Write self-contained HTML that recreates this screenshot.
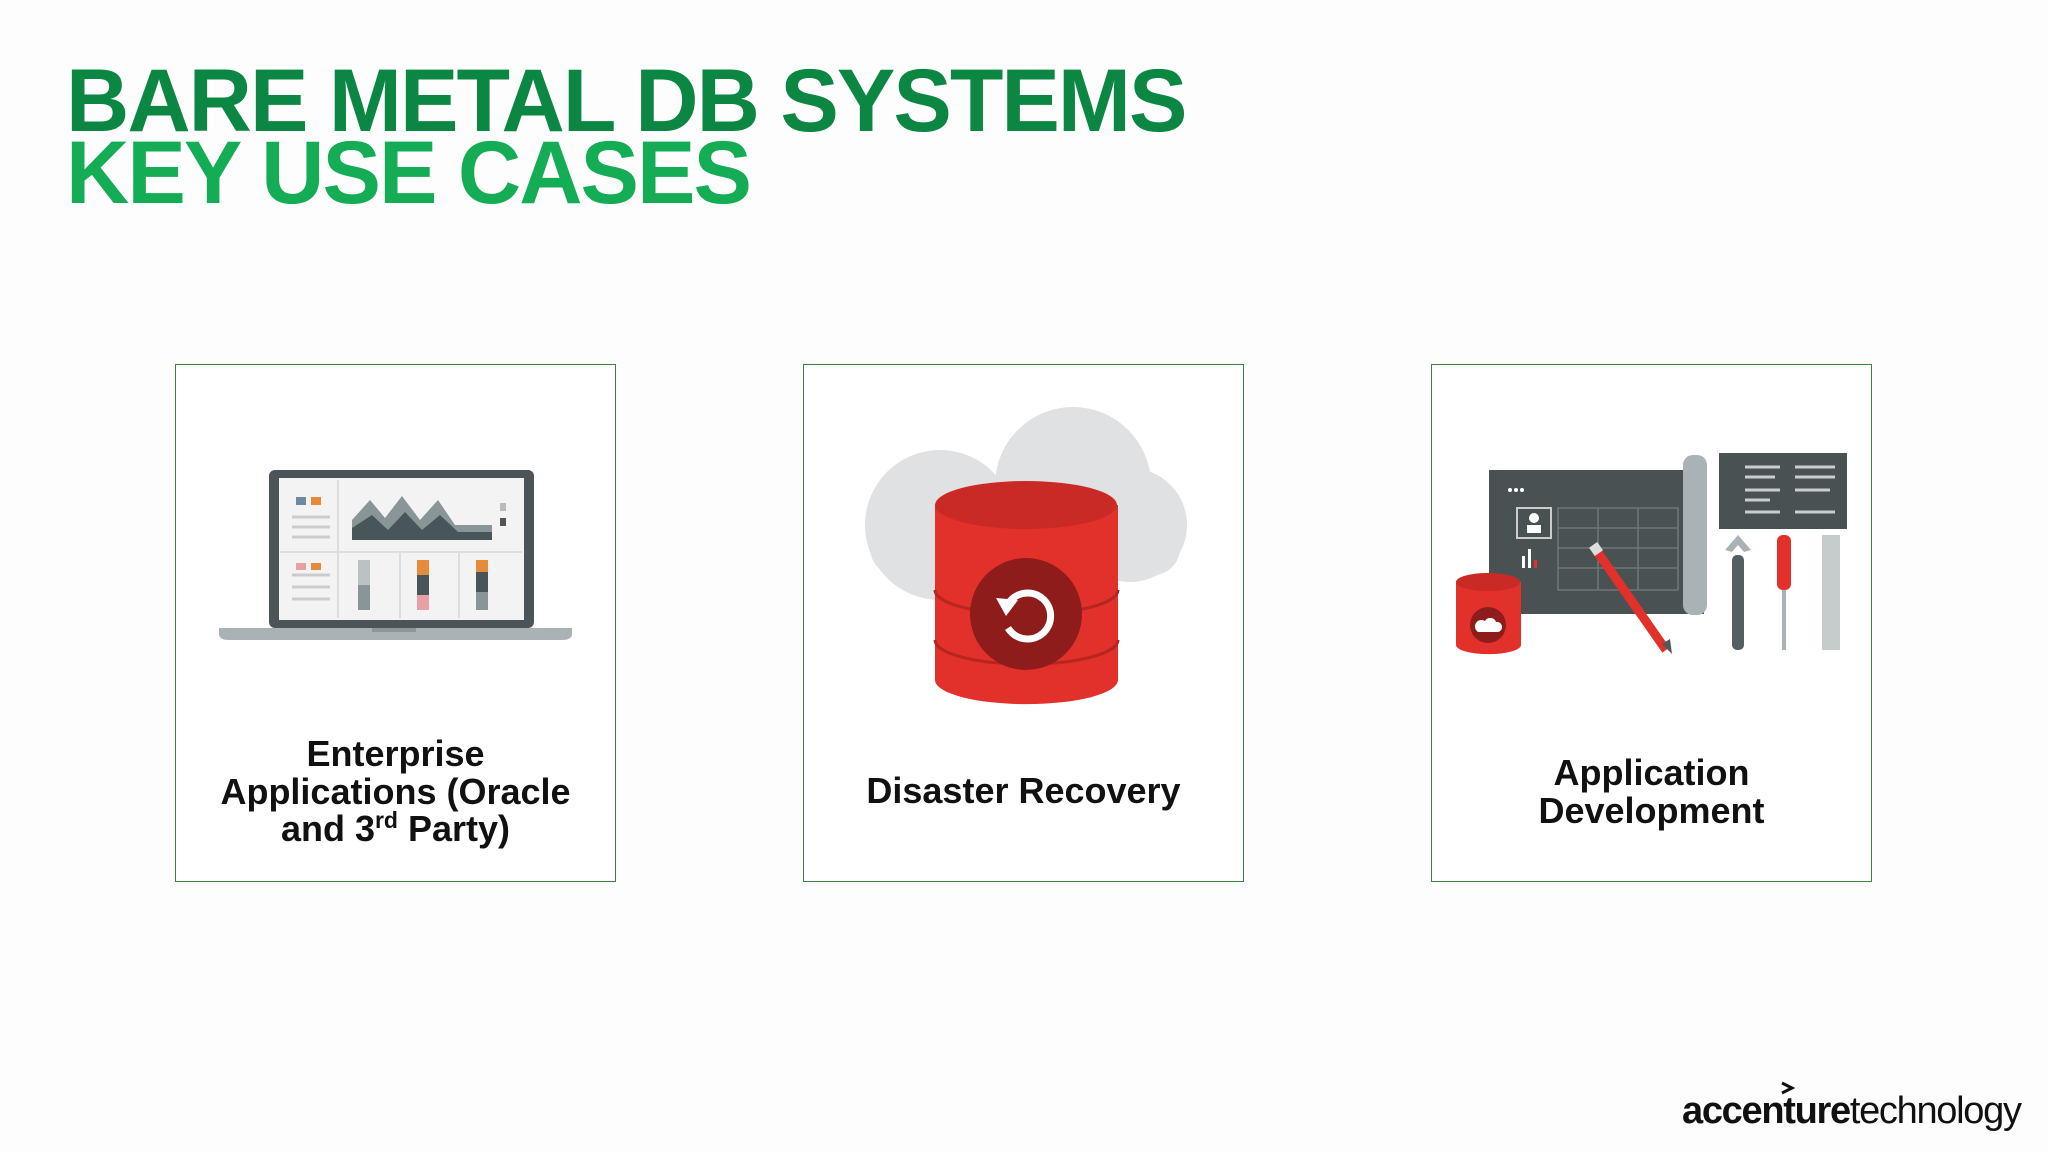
<!DOCTYPE html>
<html><head><meta charset="utf-8"><style>
html,body{margin:0;padding:0;background:#fdfdfd;}
body{width:2048px;height:1152px;position:relative;overflow:hidden;font-family:"Liberation Sans",sans-serif;}
.t{position:absolute;left:66px;font-weight:bold;font-size:89px;line-height:1;white-space:nowrap;letter-spacing:-2px;transform:scaleX(0.985);transform-origin:left top}
.box{position:absolute;top:364px;width:441px;height:518px;border:1.5px solid #3f7f3f;box-sizing:border-box;background:#fff}
.lbl{position:absolute;left:-10px;right:-10px;text-align:center;font-weight:bold;font-size:36px;line-height:37.5px;color:#111}
</style></head><body>
<div class="t" style="top:56px;color:#0b8743">BARE METAL DB SYSTEMS</div>
<div class="t" style="top:128px;color:#14ad55">KEY USE CASES</div>

<div class="box" style="left:175px"><div class="lbl" style="top:370px">Enterprise<br>Applications (Oracle<br>and 3<sup style="font-size:23px;line-height:0">rd</sup> Party)</div></div>
<div class="box" style="left:803px"><div class="lbl" style="top:407px">Disaster Recovery</div></div>
<div class="box" style="left:1431px"><div class="lbl" style="top:389px">Application<br>Development</div></div>

<svg width="2048" height="1152" style="position:absolute;left:0;top:0">
<rect x="269" y="470" width="265" height="158" rx="6" fill="#4c5457"/>
<rect x="279" y="478" width="245" height="142" fill="#f3f3f3"/>
<line x1="338" y1="480" x2="338" y2="618" stroke="#ddd" stroke-width="2"/>
<line x1="280" y1="552" x2="522" y2="552" stroke="#ddd" stroke-width="2"/>
<line x1="400" y1="553" x2="400" y2="618" stroke="#ddd" stroke-width="2"/>
<line x1="459" y1="553" x2="459" y2="618" stroke="#ddd" stroke-width="2"/>
<rect x="296" y="497" width="10" height="8" fill="#6c8aa0"/><rect x="311" y="497" width="10" height="8" fill="#e58b3a"/>
<g stroke="#ccc" stroke-width="3"><line x1="292" y1="517" x2="330" y2="517"/><line x1="292" y1="527" x2="330" y2="527"/><line x1="292" y1="537" x2="330" y2="537"/><line x1="292" y1="575" x2="330" y2="575"/><line x1="292" y1="587" x2="330" y2="587"/><line x1="292" y1="599" x2="330" y2="599"/></g>
<rect x="296" y="563" width="10" height="7" fill="#e8a0a6"/><rect x="311" y="563" width="10" height="7" fill="#e58b3a"/>
<polygon points="352,540 352,520 370,500 385,518 402,496 420,520 438,500 455,525 492,525 492,540" fill="#8a9597"/>
<polygon points="352,540 352,528 372,515 388,530 405,512 422,530 440,515 458,532 492,532 492,540" fill="#48565a"/>
<rect x="500" y="503" width="6" height="8" fill="#bbb"/><rect x="500" y="518" width="6" height="8" fill="#555"/>
<rect x="358" y="560" width="12" height="50" fill="#bcc2c4"/><rect x="358" y="585" width="12" height="25" fill="#8a9597"/>
<rect x="417" y="560" width="12" height="50" fill="#e58b3a"/><rect x="417" y="575" width="12" height="20" fill="#48565a"/><rect x="417" y="595" width="12" height="15" fill="#e8a0a6"/>
<rect x="476" y="560" width="12" height="50" fill="#e58b3a"/><rect x="476" y="572" width="12" height="20" fill="#48565a"/><rect x="476" y="592" width="12" height="18" fill="#8a9597"/>
<path d="M219,628 H572 V634 Q572,640 562,640 H229 Q219,640 219,634 Z" fill="#a9b3b6"/>
<rect x="372" y="628" width="44" height="4" fill="#8d979a"/>
<g fill="#dfe1e2">
<circle cx="1073" cy="485" r="78"/><circle cx="940" cy="525" r="75"/><circle cx="1130" cy="525" r="57"/>
<rect x="870" y="520" width="310" height="55" rx="27"/></g>
<path d="M935,505 V680 A91,24 0 0 0 1118,680 V505 Z" fill="#e2312b"/>
<ellipse cx="1026" cy="505" rx="91" ry="24" fill="#c92a25"/>
<path d="M935,590 A91,24 0 0 0 1118,590" fill="none" stroke="#b62520" stroke-width="3"/>
<path d="M935,640 A91,24 0 0 0 1118,640" fill="none" stroke="#b62520" stroke-width="3"/>
<circle cx="1026" cy="614" r="56" fill="#8e1c1a"/>
<path d="M1008,604 A23,23 0 1 1 1008,628" fill="none" stroke="#fff" stroke-width="7"/>
<polygon points="996,598 1018,600 1006,616" fill="#fff"/>
<rect x="1489" y="470" width="215" height="144" fill="#4a5153"/>
<rect x="1683" y="455" width="24" height="160" rx="10" fill="#a9b3b6"/>
<g stroke="#6f7779" stroke-width="1.5" fill="none"><rect x="1558" y="508" width="120" height="82"/>
<line x1="1558" y1="528" x2="1678" y2="528"/><line x1="1558" y1="548" x2="1678" y2="548"/><line x1="1558" y1="568" x2="1678" y2="568"/>
<line x1="1598" y1="508" x2="1598" y2="590"/><line x1="1638" y1="508" x2="1638" y2="590"/></g>
<rect x="1517" y="508" width="34" height="30" fill="none" stroke="#ccc" stroke-width="2"/>
<circle cx="1534" cy="518" r="5" fill="#fff"/><rect x="1527" y="525" width="14" height="8" fill="#fff"/>
<rect x="1522" y="556" width="3" height="12" fill="#fff"/><rect x="1528" y="549" width="3" height="19" fill="#fff"/><rect x="1534" y="560" width="3" height="8" fill="#e2312b"/>
<circle cx="1510" cy="490" r="2" fill="#fff"/><circle cx="1516" cy="490" r="2" fill="#fff"/><circle cx="1522" cy="490" r="2" fill="#fff"/>
<rect x="1719" y="453" width="128" height="76" fill="#4a5153"/>
<g stroke="#c9cdce" stroke-width="3"><line x1="1745" y1="467" x2="1780" y2="467"/><line x1="1745" y1="477" x2="1775" y2="477"/><line x1="1745" y1="490" x2="1780" y2="490"/><line x1="1745" y1="500" x2="1770" y2="500"/><line x1="1745" y1="512" x2="1780" y2="512"/>
<line x1="1795" y1="467" x2="1835" y2="467"/><line x1="1795" y1="477" x2="1835" y2="477"/><line x1="1795" y1="490" x2="1830" y2="490"/><line x1="1795" y1="512" x2="1835" y2="512"/></g>
<line x1="1596" y1="550" x2="1666" y2="650" stroke="#e2312b" stroke-width="9"/>
<polygon points="1662,644 1670,639 1672,654" fill="#555"/>
<rect x="1591" y="544" width="10" height="10" fill="#ddd" transform="rotate(-35 1596 549)"/>
<rect x="1732" y="555" width="12" height="95" rx="5" fill="#555f61"/>
<path d="M1725,550 L1738,535 L1751,550 L1744,552 L1738,545 L1732,552 Z" fill="#a9b3b6"/>
<rect x="1777" y="535" width="14" height="55" rx="6" fill="#e2312b"/>
<rect x="1782" y="590" width="4" height="60" fill="#a9b3b6"/>
<rect x="1822" y="535" width="18" height="115" fill="#c6cbcc"/>
<path d="M1456,582 V645 A32,9 0 0 0 1521,645 V582 Z" fill="#e2312b"/>
<ellipse cx="1488" cy="582" rx="32" ry="9" fill="#c92a25"/>
<circle cx="1488" cy="625" r="18" fill="#8e1c1a"/>
<path d="M1478,632 h20 a5,5 0 0 0 -2,-10 a6,6 0 0 0 -11,-1 a5,5 0 0 0 -7,11z" fill="#fff"/>
<text x="1682" y="1123" font-family="Liberation Sans, sans-serif" font-size="38" font-weight="bold" fill="#111" letter-spacing="-1.3">accenture<tspan font-weight="normal">technology</tspan></text>
<path d="M1782,1083 L1792,1088 L1782,1093" fill="none" stroke="#111" stroke-width="3"/>
</svg>
</body></html>
